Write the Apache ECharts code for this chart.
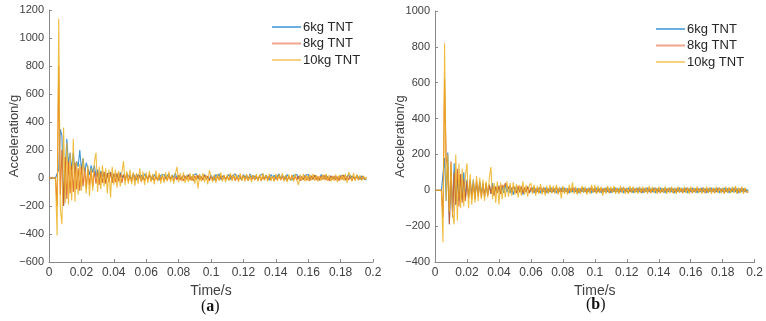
<!DOCTYPE html>
<html>
<head>
<meta charset="utf-8">
<script src="https://cdn.jsdelivr.net/npm/echarts@6/dist/echarts.min.js"></script>
<style>
  html, body { margin: 0; padding: 0; background: #fff; }
  #main { width: 766px; height: 321px; }
</style>
</head>
<body>
<div id="main"></div>
<script>
// sample spacing of the digitised records, seconds
const dt = 0.001;
const seriesNames = ['6kg TNT', '8kg TNT', '10kg TNT'];
const xTicks = { min: 0, max: 0.2, interval: 0.02 };

// (a)
const accA6 = [
  0,0,0,0,0,0,60,350,300,-200,
  50,280,100,180,60,180,40,120,80,200,
  60,140,30,110,70,20,90,40,90,10,
  60,-20,50,10,40,-30,30,20,40,-10,
  30,10,25,-15,40,5,20,-10,30,15,
  20,-5,30,10,-15,25,5,20,-10,30,
  15,-5,20,10,-10,25,5,15,-15,20,
  10,25,-5,15,30,-10,20,5,35,-5,
  15,25,-10,20,10,-5,25,15,-10,20,
  10,30,-5,15,20,-10,25,5,15,-5,
  20,10,-15,25,5,30,-10,15,20,-5,
  10,25,-10,15,5,30,-5,20,10,-15,
  25,5,20,-10,30,10,-5,15,25,-10,
  15,5,30,-5,20,10,-15,25,5,20,
  -10,15,30,-5,20,10,-10,25,5,15,
  -15,20,10,25,-5,15,5,-10,20,10,
  25,-5,15,-10,20,5,15,-15,25,10,
  -5,20,10,-10,15,25,-5,10,20,-10,
  15,5,20,-15,10,25,-5,15,10,-10,
  20,5,-10,15,-5,-10,-15
];
const accA8 = [
  0,0,0,0,0,-200,800,-120,200,-200,
  150,-150,120,-110,90,-100,110,-80,70,-90,
  80,-60,70,-70,60,-50,55,-60,50,-40,
  45,-50,40,-35,45,-40,35,-30,40,-35,
  30,-30,35,-25,30,-35,25,-20,30,-25,
  20,-25,30,-20,25,-15,20,-25,15,-20,
  20,-15,25,-20,15,-20,10,-15,20,-15,
  15,-20,10,-15,20,-10,15,-20,10,-15,
  20,-15,10,-20,15,-10,20,-15,10,-20,
  15,-10,20,-15,10,-15,20,-10,15,-20,
  10,-15,15,-20,10,-10,15,-15,20,-10,
  10,-15,20,-10,15,-20,10,-15,15,-10,
  20,-15,10,-20,15,-10,20,-15,10,-15,
  15,-20,10,-15,20,-10,15,-15,10,-20,
  15,-10,20,-15,10,-15,15,-20,10,-10,
  20,-15,10,-15,15,-20,10,-10,15,-15,
  10,-20,15,-10,20,-15,10,-15,15,-10,
  20,-15,10,-20,15,-10,15,-15,10,-20,
  15,-10,20,-15,10,-15,15,-20,10,-10,
  15,-15,10,-10,15,-10,5
];
const accA10 = [
  0,0,0,0,0,-410,1140,-220,-330,360,
  -180,250,-190,180,-160,280,-170,120,-120,100,
  -90,140,130,-110,90,-130,70,-90,110,180,
  -100,80,-80,90,-60,70,-110,60,-140,80,
  -50,60,-70,50,-60,40,120,-50,50,-40,
  60,-45,40,-55,35,-40,70,-30,45,-50,
  40,-35,50,-30,30,-45,55,-25,35,-40,
  30,-35,40,-25,45,-30,25,-40,30,80,
  -30,35,-25,40,-35,20,-30,35,-20,30,
  -40,25,-75,30,-25,35,-30,20,-45,55,
  60,-30,25,-35,30,-20,40,-25,20,-30,
  25,-20,35,-25,30,-15,25,-30,35,-20,
  20,-25,30,-20,25,-30,20,-15,30,-25,
  25,-20,35,-15,20,-25,30,-20,15,-25,
  30,-20,25,-15,35,-25,20,-30,25,-20,
  20,-25,30,-15,-50,25,-20,30,-25,20,
  -20,25,-15,30,-20,20,-25,15,-20,25,
  -15,30,-20,20,-25,15,-20,25,-30,20,
  -15,25,-20,30,-35,40,20,-25,35,-20,
  25,-15,20,-20,15,-10,5
];

// (b)
const accB6 = [
  0,0,0,0,0,0,180,-60,210,-190,
  100,-120,150,-80,60,-60,90,-50,100,-40,
  60,-40,50,-30,60,-40,40,-30,50,-20,
  40,-30,35,-25,30,-20,40,-25,20,-15,
  25,-20,20,-15,30,-10,20,-15,15,-25,
  20,-15,15,-10,20,-25,15,-10,20,-15,
  -10,15,-15,10,-10,15,-15,10,-10,15,
  -15,10,-10,15,-10,10,-15,10,-10,15,
  -10,15,-10,10,-15,10,-10,15,-10,10,
  -15,10,-10,15,-10,10,-10,15,-15,10,
  -10,15,-10,10,-15,10,-10,15,-10,10,
  -15,10,-10,15,-10,10,-10,15,-15,10,
  -10,15,-10,10,-15,10,-10,15,-10,10,
  -15,10,-10,15,-10,10,-10,15,-15,10,
  -10,15,-10,10,-15,10,-10,15,-10,10,
  -15,10,-10,15,-10,10,-10,15,-15,10,
  -10,15,-10,10,-15,10,-10,15,-10,10,
  -15,10,-10,15,-10,10,-10,15,-15,10,
  -10,15,-10,10,-15,10,-10,15,-10,10,
  -15,10,-10,10,-10,5,-5
];
const accB8 = [
  0,0,0,0,0,-150,620,180,120,-190,
  160,-150,100,-80,120,-90,90,-70,60,-60,
  50,-40,60,-50,40,-50,55,-30,40,-40,
  35,-35,40,-30,30,-20,25,-30,20,-15,
  25,-20,30,15,40,35,10,25,-10,20,
  15,-15,25,-10,20,-15,15,-10,20,-15,
  15,-10,20,-15,10,-15,20,-10,15,-15,
  10,-10,15,-15,10,-10,20,-15,10,-10,
  15,-10,10,-15,10,-10,15,-10,10,-15,
  10,-10,15,-10,10,-15,10,-10,15,-10,
  10,-15,10,-10,15,-10,10,-10,15,-15,
  10,-10,15,-10,10,-15,10,-10,15,-10,
  10,-15,10,-10,15,-10,10,-10,15,-15,
  10,-10,15,-10,10,-15,10,-10,15,-10,
  10,-15,10,-10,15,-10,10,-10,15,-15,
  10,-10,15,-10,10,-15,10,-10,15,-10,
  10,-15,10,-10,15,-10,10,-10,15,-15,
  10,-10,15,-10,10,-15,10,-10,15,-10,
  10,-15,10,-10,15,-10,10,-10,15,-15,
  10,-10,15,-10,10,-10,-10
];
const accB10 = [
  0,0,0,0,0,-290,820,-60,200,-120,
  150,-130,-190,200,-170,150,-100,120,-90,80,
  150,-100,90,-80,60,-70,80,-60,70,-50,
  60,-60,50,-40,70,130,-50,40,-70,50,
  -80,45,-50,30,-40,50,-35,40,-30,45,
  -25,35,-40,30,-30,50,-25,30,-35,25,
  40,-20,30,-30,25,-20,35,-25,20,-30,
  25,-20,30,-15,25,-20,30,-25,20,-45,
  25,-20,15,-25,30,-15,45,-20,20,-25,
  15,-20,25,-15,20,-25,15,-20,30,-15,
  30,-20,25,-15,20,-30,15,-20,25,-15,
  20,-15,25,-20,15,-20,25,-15,20,-20,
  15,-20,25,-15,20,-15,15,-20,20,-15,
  20,-15,15,-20,25,-15,20,-15,15,-20,
  20,-15,15,-15,20,-20,15,-15,20,-15,
  15,-20,20,-15,15,-15,20,-15,15,-20,
  20,-15,15,-15,20,-15,15,-20,15,-15,
  20,-15,15,-20,15,-15,20,-15,15,-15,
  15,-20,20,-15,15,-15,20,-15,25,-20,
  15,-15,20,-20,15,-10,-5
];

const lineColors = ['#1f80cf', '#d95319', '#edb120'];
const legendColors = ['#6aaee2', '#f0a58c', '#f6d27e'];

function toPairs(vals) {
  return vals.map((v, i) => [+(i * dt).toFixed(3), v]);
}
function minus(v) {
  return String(v).replace('-', '\u2212');
}

let chart = echarts.init(document.getElementById('main'), null, { renderer: 'canvas' });

const axisCommon = {
  axisLine: { show: true, onZero: false, lineStyle: { color: '#8a8a8a', width: 1 } },
  axisTick: { show: true, inside: true, length: 3, lineStyle: { color: '#8a8a8a' } },
  splitLine: { show: false },
  axisLabel: { color: '#404040', fontSize: 12, fontFamily: 'Liberation Sans, Arial' }
};

function xAxisFor(gridIndex) {
  return Object.assign({}, axisCommon, {
    type: 'value',
    gridIndex: gridIndex,
    min: xTicks.min, max: xTicks.max, interval: xTicks.interval,
    name: 'Time/s',
    nameLocation: 'middle',
    nameGap: 22,
    nameMoveOverlap: false,
    nameTextStyle: { color: '#404040', fontSize: 14, fontFamily: 'Liberation Sans, Arial' },
    axisLabel: Object.assign({}, axisCommon.axisLabel, {
      margin: 5,
      formatter: v => String(+v.toFixed(2))
    })
  });
}
function yAxisFor(gridIndex, min, max) {
  return Object.assign({}, axisCommon, {
    type: 'value',
    gridIndex: gridIndex,
    min: min, max: max, interval: 200,
    name: 'Acceleration/g',
    nameLocation: 'middle',
    nameGap: 28,
    nameMoveOverlap: false,
    nameTextStyle: { color: '#404040', fontSize: 13, fontFamily: 'Liberation Sans, Arial' },
    axisLabel: Object.assign({}, axisCommon.axisLabel, {
      margin: 5,
      fontSize: 11,
      formatter: v => minus(v)
    })
  });
}

function lineSeries(name, idx, gridIdx, vals) {
  return {
    type: 'line',
    name: name,
    xAxisIndex: gridIdx,
    yAxisIndex: gridIdx,
    showSymbol: false,
    symbol: 'none',
    animation: false,
    lineStyle: { width: 1.1, color: lineColors[idx], opacity: 0.85 },
    itemStyle: { color: lineColors[idx] },
    data: toPairs(vals)
  };
}

function legendAt(left, top) {
  return {
    orient: 'vertical',
    left: left,
    top: top,
    itemWidth: 29,
    itemHeight: 2,
    itemGap: 2.5,
    icon: 'rect',
    selectedMode: false,
    textStyle: { color: '#262626', fontSize: 13, fontFamily: 'Liberation Sans, Arial', padding: [0, 0, 0, -3], lineHeight: 14 },
    data: seriesNames.map((n, i) => ({ name: n, itemStyle: { color: legendColors[i] } }))
  };
}

const labelRich = {
  p: { fontSize: 16, fontFamily: 'Liberation Serif, serif', fill: '#111' },
  b: { fontSize: 16, fontWeight: 'bold', fontFamily: 'Liberation Serif, serif', fill: '#111' }
};

chart.setOption({
  animation: false,
  backgroundColor: '#fff',
  grid: [
    { left: 49, right: 393, top: 10, bottom: 59 },
    { left: 435, right: 10, top: 11, bottom: 59 }
  ],
  xAxis: [xAxisFor(0), xAxisFor(1)],
  yAxis: [yAxisFor(0, -600, 1200), yAxisFor(1, -400, 1000)],
  legend: [legendAt(267, 15), legendAt(651, 17)],
  series: [
    lineSeries(seriesNames[0], 0, 0, accA6),
    lineSeries(seriesNames[1], 1, 0, accA8),
    lineSeries(seriesNames[2], 2, 0, accA10),
    lineSeries(seriesNames[0], 0, 1, accB6),
    lineSeries(seriesNames[1], 1, 1, accB8),
    lineSeries(seriesNames[2], 2, 1, accB10)
  ],
  graphic: [
    { type: 'text', left: 201, top: 299, style: { rich: labelRich, text: '{p|(}{b|a}{p|)}' } },
    { type: 'text', left: 586, top: 297, style: { rich: labelRich, text: '{p|(}{b|b}{p|)}' } }
  ]
});
</script>
</body>
</html>
